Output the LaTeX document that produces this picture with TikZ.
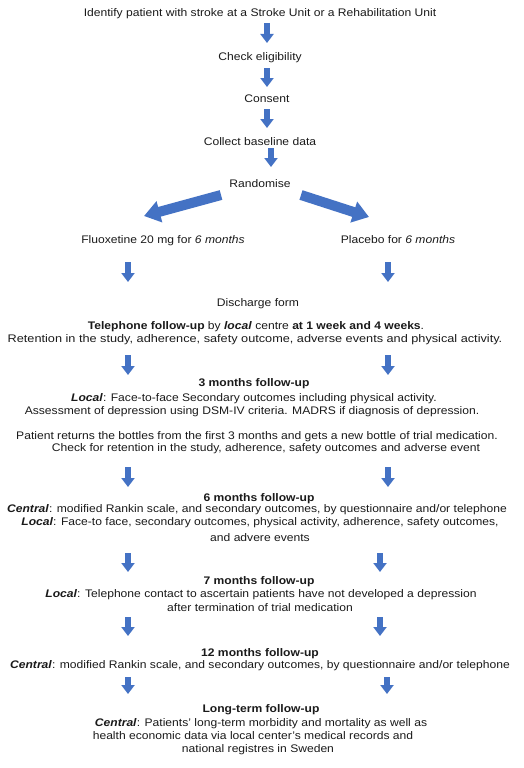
\documentclass[tikz,border=0pt]{standalone}
\usepackage{fontspec}
\setmainfont{Liberation Sans}[FakeStretch=1.1]
\usetikzlibrary{arrows.meta}
\definecolor{arrblue}{HTML}{4472C4}
\definecolor{txt}{HTML}{1A1A1A}
\tikzset{
  ln/.style={anchor=base, inner sep=0pt, text=txt, font=\fontsize{11}{13}\selectfont},
  downarr/.style={draw=arrblue, line width=6.5pt, -{Triangle[width=13pt,length=9pt]}},
  diagarr/.style={draw=arrblue, line width=10pt, -{Triangle[width=21pt,length=16pt]}}
}
\newcommand{\bi}[1]{\textbf{\textit{#1}}}
\begin{document}
\begin{tikzpicture}[x=1pt,y=-1pt]
\useasboundingbox (0,0) rectangle (523,768);
% text lines (baseline = visual centre + 4)
\node[ln] (identify) at (260,17) {Identify patient with stroke at a Stroke Unit or a Rehabilitation Unit};
\node[ln] (check) at (260,60) {Check eligibility};
\node[ln] (consent) at (267,102) {Consent};
\node[ln] (collect) at (260,145) {Collect baseline data};
\node[ln] (random) at (260,187) {Randomise};
\node[ln] (fluox) at (163,243) {Fluoxetine 20 mg for \textit{6 months}};
\node[ln] (placebo) at (398,243) {Placebo for \textit{6 months}};
\node[ln] (discharge) at (258,306) {Discharge form};
\node[ln] (tel1) at (256,329) {\textbf{Telephone follow-up} by \bi{local} centre \textbf{at 1 week and 4 weeks}.};
\node[ln] (tel2) at (255,342) {\scalebox{1.05}[1]{Retention in the study, adherence, safety outcome, adverse events and physical activity.}};
\node[ln] (m3) at (254,386) {\textbf{3 months follow-up}};
\node[ln] (local3) at (254,401) {\bi{Local}: Face-to-face Secondary outcomes including physical activity.};
\node[ln] (assess) at (252,414) {Assessment of depression using DSM-IV criteria. MADRS if diagnosis of depression.};
\node[ln] (patient) at (257,439) {Patient returns the bottles from the first 3 months and gets a new bottle of trial medication.};
\node[ln] (checkret) at (266,451) {Check for retention in the study, adherence, safety outcomes and adverse event};
\node[ln] (m6) at (259,501) {\textbf{6 months follow-up}};
\node[ln] (central6) at (257,512) {\bi{Central}: modified Rankin scale, and secondary outcomes, by questionnaire and/or telephone};
\node[ln] (local6) at (260,525) {\bi{Local}: Face-to face, secondary outcomes, physical activity, adherence, safety outcomes,};
\node[ln] (advere) at (260,541) {and advere events};
\node[ln] (m7) at (259,584) {\textbf{7 months follow-up}};
\node[ln] (local7) at (261,597) {\bi{Local}: Telephone contact to ascertain patients have not developed a depression};
\node[ln] (after) at (260,611) {after termination of trial medication};
\node[ln] (m12) at (260,656) {\textbf{12 months follow-up}};
\node[ln] (central12) at (260,668) {\bi{Central}: modified Rankin scale, and secondary outcomes, by questionnaire and/or telephone};
\node[ln] (lt) at (261,712) {\textbf{Long-term follow-up}};
\node[ln] (centrallt) at (261,726) {\bi{Central}: Patients' long-term morbidity and mortality as well as};
\node[ln] (health) at (253,739) {health economic data via local center's medical records and};
\node[ln] (national) at (258,752) {national registres in Sweden};
% arrow end points
\coordinate (a1s) at (267,23);  \coordinate (a1e) at (267,43);
\coordinate (a2s) at (267,68);  \coordinate (a2e) at (267,87);
\coordinate (a3s) at (267,109); \coordinate (a3e) at (267,128);
\coordinate (a4s) at (271,148); \coordinate (a4e) at (271,167);
\coordinate (dls) at (221,195); \coordinate (dle) at (144,216);
\coordinate (drs) at (301,195); \coordinate (dre) at (369,217);
\foreach \n/\t/\b in {1/262/282, 2/355/375, 3/467/487}{
  \coordinate (l\n s) at (128,\t); \coordinate (l\n e) at (128,\b);
  \coordinate (r\n s) at (388,\t); \coordinate (r\n e) at (388,\b);
}
\foreach \n/\t/\b in {4/553/572, 5/617/636}{
  \coordinate (l\n s) at (128,\t); \coordinate (l\n e) at (128,\b);
  \coordinate (r\n s) at (380,\t); \coordinate (r\n e) at (380,\b);
}
\coordinate (l6s) at (128,677); \coordinate (l6e) at (128,694);
\coordinate (r6s) at (387,677); \coordinate (r6e) at (387,694);
% arrows
\draw[downarr] (a1s) -- (a1e);
\draw[downarr] (a2s) -- (a2e);
\draw[downarr] (a3s) -- (a3e);
\draw[downarr] (a4s) -- (a4e);
\draw[diagarr] (dls) -- (dle);
\draw[diagarr] (drs) -- (dre);
\foreach \n in {1,...,6}{
  \draw[downarr] (l\n s) -- (l\n e);
  \draw[downarr] (r\n s) -- (r\n e);
}
\end{tikzpicture}
\end{document}
